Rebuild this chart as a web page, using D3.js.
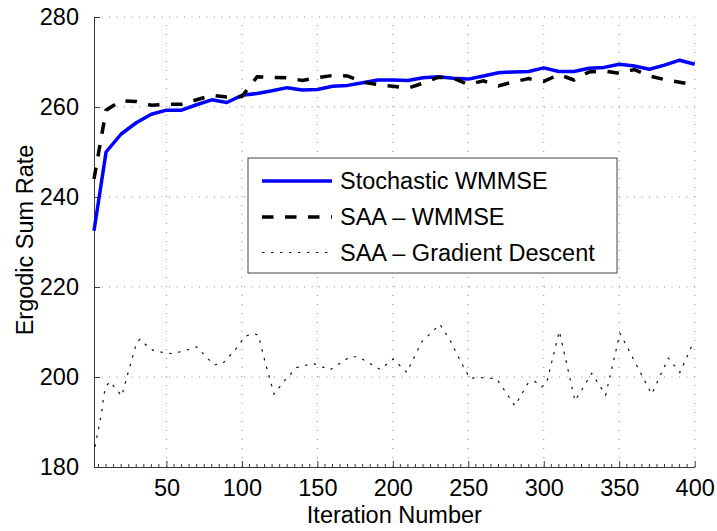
<!DOCTYPE html>
<html>
<head>
<meta charset="utf-8">
<script src="https://cdn.jsdelivr.net/npm/d3@7"></script>
<style>
  html, body { margin: 0; padding: 0; background: #fff; }
  svg { display: block; font-family: "Liberation Sans", Arial, Helvetica, sans-serif; }
</style>
</head>
<body>
<svg id="chart" width="717" height="531"></svg>
<script>
// Iterations at which the two WMMSE variants were evaluated
const iterations = [2, 10, 20, 30, 40, 50, 60, 70, 80, 90, 100, 110, 120, 130, 140, 150, 160, 170, 180, 190, 200,
  210, 220, 230, 240, 250, 260, 270, 280, 290, 300, 310, 320, 330, 340, 350, 360, 370, 380, 390, 400];

const stochasticWMMSE = [232.5, 250.0, 254.0, 256.5, 258.4, 259.3, 259.3, 260.5, 261.6, 261.0, 262.6, 263.0, 263.6,
  264.3, 263.8, 263.9, 264.6, 264.8, 265.4, 266.0, 266.0, 265.9, 266.5, 266.7, 266.4, 266.2, 266.9, 267.6, 267.8,
  267.9, 268.7, 267.9, 267.9, 268.6, 268.8, 269.5, 269.1, 268.4, 269.3, 270.4, 269.5];

const saaWMMSE = [244.0, 259.3, 261.4, 261.2, 260.4, 260.6, 260.6, 261.6, 262.6, 262.2, 262.3, 266.7, 266.6,
  266.5, 265.9, 266.5, 267.0, 266.9, 265.5, 265.0, 264.6, 264.2, 265.3, 266.6, 266.4, 265.0, 265.8, 264.7, 265.6,
  266.3, 265.7, 267.2, 266.0, 267.8, 268.0, 267.5, 268.3, 266.9, 266.1, 265.5, 264.9];

// Gradient-descent baseline, recorded at finer, irregular iterations
const gdIterations = [2.7, 4.8, 7.1, 8.6, 10.4, 12.6, 20.4, 23.7, 27.0, 30.3, 32.5, 36.9, 41.3, 46.9, 53.5, 59.0,
  64.5, 70.0, 73.4, 81.5, 87.3, 95.4, 102.0, 107.5, 110.9, 115.3, 121.3, 128.5, 136.3, 147.3, 158.4, 171.6, 177.1,
  191.5, 200.3, 209.2, 219.1, 231.2, 237.9, 245.6, 251.1, 257.7, 268.8, 280.9, 289.7, 294.2, 298.6, 301.9, 310.3,
  320.7, 331.8, 341.0, 350.5, 371.5, 382.5, 390.2, 399.5];

const saaGradientDescent = [184.5, 188.2, 192.2, 196.2, 198.1, 199.0, 195.8, 199.9, 203.8, 207.7, 208.4, 207.0,
  205.9, 205.5, 205.2, 205.6, 206.1, 206.7, 205.5, 202.7, 203.0, 206.0, 209.0, 209.7, 209.3, 203.4, 196.2, 199.3,
  202.1, 203.0, 201.6, 204.5, 204.5, 201.7, 204.0, 201.0, 207.8, 211.7, 208.2, 203.0, 199.7, 199.9, 199.6, 193.6,
  198.7, 199.0, 197.8, 198.7, 210.2, 194.7, 200.8, 196.0, 209.7, 196.2, 204.2, 201.0, 208.0];

const xTicks = [50, 100, 150, 200, 250, 300, 350, 400];
const yTicks = [180, 200, 220, 240, 260, 280];
const legendLabels = ["Stochastic WMMSE", "SAA \u2013 WMMSE", "SAA \u2013 Gradient Descent"];

const svg = d3.select("#chart");
const plot = { left: 94, right: 694.7, top: 17, bottom: 467 };

const x = d3.scaleLinear().domain([2, 400]).range([plot.left, plot.right]);
const y = d3.scaleLinear().domain([180, 280]).range([plot.bottom, plot.top]);

const fontSize = 23.5;
const axisColor = "#3a3a3a";

// Dotted grid
const grid = svg.append("g").attr("class", "grid")
  .attr("stroke", "#8a8a8a").attr("stroke-width", 1).attr("fill", "none");
grid.selectAll("line.gx").data(xTicks).join("line").attr("class", "gx")
  .attr("x1", d => x(d)).attr("x2", d => x(d))
  .attr("y1", plot.bottom).attr("y2", plot.top)
  .attr("stroke-dasharray", "1,8");
grid.selectAll("line.gy").data(yTicks.filter(d => d > 180)).join("line").attr("class", "gy")
  .attr("y1", d => y(d)).attr("y2", d => y(d))
  .attr("x1", plot.left).attr("x2", plot.right)
  .attr("stroke-dasharray", "1,6.5");

// Axes
const xAxis = d3.axisBottom(x).tickValues(xTicks).tickSizeInner(-6).tickSizeOuter(0).tickPadding(12);
const yAxis = d3.axisLeft(y).tickValues(yTicks).tickSizeInner(-6).tickSizeOuter(0).tickPadding(15);

const gx = svg.append("g").attr("transform", `translate(0,${plot.bottom})`).call(xAxis);
const gy = svg.append("g").attr("transform", `translate(${plot.left},0)`).call(yAxis);
[gx, gy].forEach(g => {
  g.select(".domain").attr("stroke", axisColor);
  g.selectAll(".tick line").attr("stroke", axisColor);
  g.selectAll(".tick text").attr("fill", "#000").attr("font-size", fontSize)
    .attr("font-family", "'Liberation Sans', Arial, Helvetica, sans-serif");
});

// Minor ticks along the iteration axis
const minorTicks = d3.range(5, 400, 5).filter(d => d % 50 !== 0);
svg.append("g").selectAll("line").data(minorTicks).join("line")
  .attr("x1", d => x(d)).attr("x2", d => x(d))
  .attr("y1", plot.bottom).attr("y2", plot.bottom - 3)
  .attr("stroke", axisColor).attr("stroke-width", 1);

// Axis titles
svg.append("text").attr("x", (plot.left + plot.right) / 2).attr("y", 523)
  .attr("text-anchor", "middle").attr("font-size", fontSize).text("Iteration Number");
svg.append("text").attr("transform", `translate(33,${(plot.top + plot.bottom) / 2 - 2}) rotate(-90)`)
  .attr("text-anchor", "middle").attr("font-size", fontSize).text("Ergodic Sum Rate");

// Series
const line = d3.line().x(d => x(d[0])).y(d => y(d[1]));

svg.append("path").datum(d3.zip(gdIterations, saaGradientDescent))
  .attr("d", line).attr("fill", "none").attr("stroke", "#111")
  .attr("stroke-width", 1.2).attr("stroke-dasharray", "2.5,6.5");

svg.append("path").datum(d3.zip(iterations, stochasticWMMSE))
  .attr("d", line).attr("fill", "none").attr("stroke", "#0000ff")
  .attr("stroke-width", 3.5).attr("stroke-linejoin", "round");

svg.append("path").datum(d3.zip(iterations, saaWMMSE))
  .attr("d", line).attr("fill", "none").attr("stroke", "#000")
  .attr("stroke-width", 3.5).attr("stroke-dasharray", "11.5,11.5");

// Legend
const legend = svg.append("g");
legend.append("rect").attr("x", 248).attr("y", 158).attr("width", 369).attr("height", 115)
  .attr("fill", "#fff").attr("stroke", "#444").attr("stroke-width", 1);
const styles = [
  { stroke: "#0000ff", width: 3.5, dash: null },
  { stroke: "#000", width: 3.5, dash: "11.5,11.5" },
  { stroke: "#111", width: 1.2, dash: "2.5,6.5" }
];
const rowY = [181, 217, 252.5];
legendLabels.forEach((label, i) => {
  legend.append("line").attr("x1", 262).attr("x2", 332).attr("y1", rowY[i]).attr("y2", rowY[i])
    .attr("stroke", styles[i].stroke).attr("stroke-width", styles[i].width)
    .attr("stroke-dasharray", styles[i].dash);
  legend.append("text").attr("x", 340).attr("y", rowY[i]).attr("dy", "0.35em")
    .attr("font-size", fontSize).text(label);
});
</script>
</body>
</html>
